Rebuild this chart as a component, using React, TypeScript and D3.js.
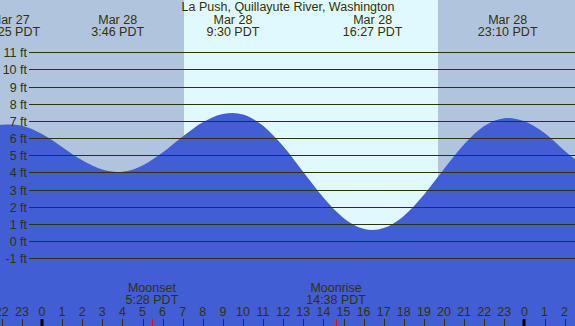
import React from "react";
import * as d3 from "d3";

const W = 575;
const H = 326;

const title = "La Push, Quillayute River, Washington";

// Tide heights (ft), hours relative to Mar 28 00:00 PDT
const tideHours = [-2.09, -2, -1.583, -1, 0, 1, 2, 3, 3.767, 4, 5, 6, 7, 8, 9, 9.5, 10, 11, 12, 13, 14, 15, 16, 16.45, 17, 18, 19, 20, 21, 22, 23, 23.167, 24, 25, 26, 26.52];
const tideFeet = [6.77, 6.78, 6.8, 6.72, 6.24, 5.49, 4.71, 4.17, 4.03, 4.04, 4.41, 5.16, 6.09, 6.92, 7.41, 7.47, 7.38, 6.72, 5.52, 4.02, 2.54, 1.35, 0.72, 0.65, 0.76, 1.47, 2.7, 4.2, 5.64, 6.7, 7.16, 7.17, 6.98, 6.3, 5.27, 4.75];

// Extreme labels
const extremeHours = [-1.583, 3.767, 9.5, 16.45, 23.167];
const extremeDates = ["Mar 27", "Mar 28", "Mar 28", "Mar 28", "Mar 28"];
const extremeTimes = ["22:25 PDT", "3:46 PDT", "9:30 PDT", "16:27 PDT", "23:10 PDT"];

// Sun
const sunriseHour = 7.065;
const sunsetHour = 19.7;

// Moon
const moonHours = [5.467, 14.633];
const moonNames = ["Moonset", "Moonrise"];
const moonTimes = ["5:28 PDT", "14:38 PDT"];

// Axis
const feetTicks = [-1, 0, 1, 2, 3, 4, 5, 6, 7, 8, 9, 10, 11];
const hourTicks = d3.range(-2, 27);

const FONT = "'Liberation Sans', Arial, sans-serif";
const TXT = "#333300";
const FS = 12.5;

export default function App() {
  const x = d3.scaleLinear().domain([-42 / 20.1, (575 - 42) / 20.1]).range([0, W]);
  const y = d3.scaleLinear().domain([-1, 11]).range([258.3, 52.3]);

  const pts: [number, number][] = tideHours.map((h, i) => [h, tideFeet[i]]);
  const area = d3
    .area<[number, number]>()
    .x((d) => x(d[0]))
    .y0(H)
    .y1((d) => y(d[1]))
    .curve(d3.curveMonotoneX);

  const hourLabel = (h: number) => String(((h % 24) + 24) % 24);

  return (
    <svg width={W} height={H} style={{ position: "absolute", left: 0, top: 0 }} fontFamily={FONT}>
      <rect x={0} y={0} width={W} height={H} fill="#B0C4DE" />
      <rect x={x(sunriseHour)} y={0} width={x(sunsetHour) - x(sunriseHour)} height={H} fill="#E0F8FF" />
      <path d={area(pts) || ""} fill="#415ED4" />
      {feetTicks.map((f) => (
        <g key={f}>
          <line x1={29} x2={W} y1={Math.round(y(f)) + 0.5} y2={Math.round(y(f)) + 0.5} stroke={TXT} strokeWidth={1} />
          <text x={27} y={Math.round(y(f)) + 4.5} textAnchor="end" fontSize={FS} fill={TXT}>
            {f} ft
          </text>
        </g>
      ))}
      <text x={288} y={11} textAnchor="middle" fontSize={FS} fill={TXT}>
        {title}
      </text>
      {extremeHours.map((h, i) => (
        <g key={i}>
          <text x={x(h)} y={24} textAnchor="middle" fontSize={FS} fill={TXT}>
            {extremeDates[i]}
          </text>
          <text x={x(h)} y={36} textAnchor="middle" fontSize={FS} fill={TXT}>
            {extremeTimes[i]}
          </text>
        </g>
      ))}
      {moonHours.map((h, i) => (
        <g key={i}>
          <text x={x(h)} y={292} textAnchor="middle" fontSize={FS} fill={TXT}>
            {moonNames[i]}
          </text>
          <text x={x(h)} y={304} textAnchor="middle" fontSize={FS} fill={TXT}>
            {moonTimes[i]}
          </text>
          <line x1={Math.round(x(h)) + 0.5} x2={Math.round(x(h)) + 0.5} y1={319} y2={H} stroke="#FF0000" strokeWidth={1} />
        </g>
      ))}
      {hourTicks.map((h) => {
        const mid = ((h % 24) + 24) % 24 === 0;
        const px = Math.round(x(h));
        return (
          <g key={h}>
            <line
              x1={mid ? px : px + 0.5}
              x2={mid ? px : px + 0.5}
              y1={319}
              y2={H}
              stroke={mid ? "#000000" : TXT}
              strokeWidth={mid ? 3 : 1}
            />
            <text x={x(h)} y={316} textAnchor="middle" fontSize={FS} fill={TXT}>
              {hourLabel(h)}
            </text>
          </g>
        );
      })}
    </svg>
  );
}
